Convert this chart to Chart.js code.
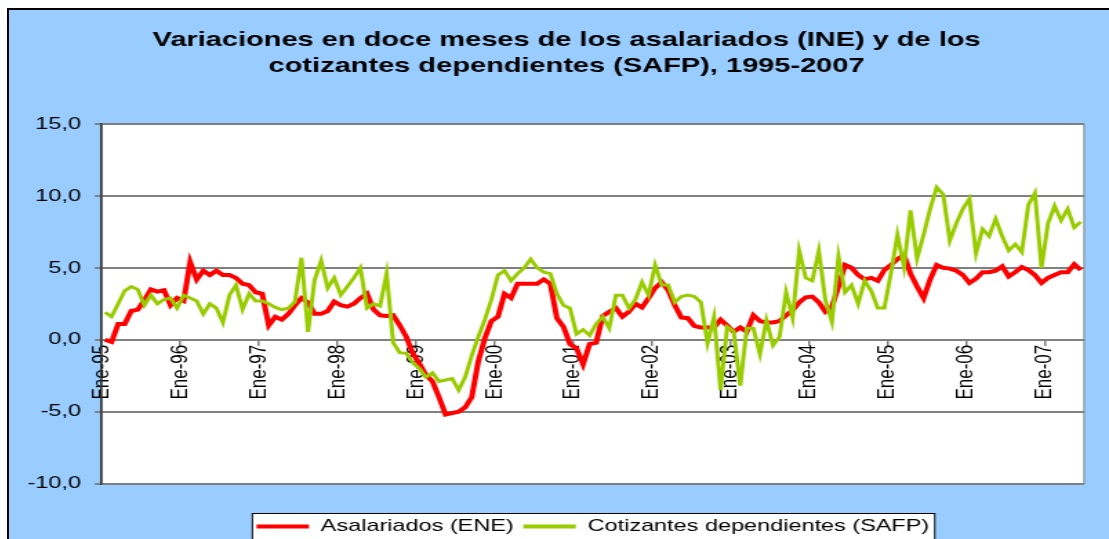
<!DOCTYPE html>
<html lang="es">
<head>
<meta charset="utf-8">
<title>Asalariados y cotizantes</title>
<script src="https://cdn.jsdelivr.net/npm/chart.js@4.4.1/dist/chart.umd.min.js"></script>
<style>
    html, body { margin: 0; background: #fff; overflow: hidden; }
    #marco {
        position: absolute; left: 7px; top: 8px; width: 1100px; height: 560px;
        background: #99ccff; border-left: 2px solid #000; border-top: 2px solid #000;
    }
    #grafico { display: block; }
</style>
</head>
<body>
<div id="marco">
    <!-- el grafico original esta estirado a lo ancho: el lienzo mide 797 y se muestra a 1100 -->
    <canvas id="grafico" width="797" height="535" style="width:1100px;height:535px"></canvas>
</div>
<script>
// Meses y años del eje (ene-1995 a jun-2007)
const meses = ["Ene", "Feb", "Mar", "Abr", "May", "Jun", "Jul", "Ago", "Sep", "Oct", "Nov", "Dic"];
const anios = ["95", "96", "97", "98", "99", "00", "01", "02", "03", "04", "05", "06", "07"];
const marcasEje = [-10, -5, 0, 5, 10, 15];

// Variación en doce meses (%), Asalariados (ENE)
const asalariados = [
    0.0, -0.15, 1.1, 1.1, 2.0, 2.1, 2.75, 3.5, 3.35, 3.45, 2.4, 2.9,
    2.7, 5.4, 4.2, 4.8, 4.5, 4.8, 4.5, 4.5, 4.3, 3.9, 3.8, 3.3,
    3.2, 1.0, 1.6, 1.4, 1.8, 2.4, 2.9, 2.6, 1.8, 1.8, 2.0, 2.65,
    2.4, 2.3, 2.5, 2.9, 3.2, 2.1, 1.7, 1.65, 1.7, 1.0, 0.2, -0.95,
    -1.65, -2.45, -2.9, -4.0, -5.2, -5.1, -5.0, -4.7, -4.0, -1.5, 0.1, 1.3,
    1.6, 3.2, 2.9, 3.9, 3.9, 3.9, 3.9, 4.2, 3.9, 1.5, 0.9, -0.3,
    -0.6, -1.7, -0.3, -0.2, 1.65, 1.95, 2.2, 1.6, 1.95, 2.5, 2.25, 2.9,
    3.6, 4.0, 3.45, 2.4, 1.55, 1.5, 0.95, 0.85, 0.85, 0.85, 1.4, 1.0,
    0.55, 0.85, 0.55, 1.7, 1.3, 1.2, 1.2, 1.3, 1.7, 2.05, 2.6, 2.95,
    3.0, 2.6, 1.95, 2.3, 3.7, 5.2, 5.0, 4.5, 4.2, 4.3, 4.1, 4.85,
    5.2, 5.6, 5.9, 4.6, 3.7, 2.9, 4.2, 5.2, 5.0, 4.95, 4.8, 4.5,
    3.95, 4.25, 4.7, 4.7, 4.8, 5.1, 4.4, 4.7, 5.05, 4.85, 4.5, 3.95,
    4.3, 4.5, 4.7, 4.7, 5.25, 4.85
];

// Variación en doce meses (%), Cotizantes dependientes (SAFP)
const cotizantes = [
    1.9, 1.6, 2.5, 3.4, 3.7, 3.5, 2.4, 3.1, 2.5, 2.8, 2.9, 2.2,
    3.1, 2.9, 2.7, 1.8, 2.5, 2.2, 1.2, 3.1, 3.8, 2.1, 3.2, 2.7,
    2.7, 2.5, 2.25, 2.1, 2.2, 2.65, 5.7, 0.55, 4.15, 5.5, 3.6, 4.3,
    3.1, 3.7, 4.3, 5.0, 2.2, 2.5, 2.35, 4.6, -0.2, -0.9, -0.95, -1.6,
    -2.0, -2.6, -2.3, -2.9, -2.8, -2.7, -3.5, -2.6, -1.1, 0.2, 1.4, 2.8,
    4.5, 4.8, 4.1, 4.6, 5.0, 5.6, 5.0, 4.7, 4.6, 3.2, 2.4, 2.2,
    0.4, 0.7, 0.3, 1.1, 1.6, 0.8, 3.1, 3.1, 2.2, 2.8, 4.0, 3.1,
    5.2, 3.8, 3.8, 2.6, 3.0, 3.1, 3.0, 2.6, -0.25, 1.6, -3.5, 0.9,
    0.6, -3.2, 0.8, 0.8, -1.0, 1.35, -0.4, 0.2, 3.3, 1.5, 6.2, 4.3,
    4.1, 6.2, 2.75, 1.25, 5.8, 3.3, 3.8, 2.5, 4.1, 3.4, 2.2, 2.2,
    4.6, 7.3, 5.07, 9.0, 5.65, 7.3, 9.1, 10.6, 10.1, 6.9, 8.1, 9.1,
    9.8, 6.0, 7.7, 7.2, 8.4, 7.2, 6.2, 6.65, 6.1, 9.4, 10.2, 5.0,
    8.1, 9.3, 8.3, 9.1, 7.8, 8.2
];

// Etiquetas "Ene-95", "Feb-95", ...
const etiquetas = [];
anios.forEach((a) => {
    meses.forEach((m) => {
        if (etiquetas.length < asalariados.length) etiquetas.push(m + "-" + a);
    });
});

const fuente = "Arial, 'Liberation Sans', sans-serif";
Chart.defaults.font.family = fuente;
Chart.defaults.color = "#000";

// Fondo blanco del área de trazado y recuadro de la leyenda
const fondos = {
    id: "fondos",
    beforeDraw(chart) {
        const { ctx, chartArea: a, legend } = chart;
        ctx.save();
        ctx.fillStyle = "#ffffff";
        ctx.fillRect(a.left, a.top, a.right - a.left, a.bottom - a.top);
        ctx.strokeStyle = "#808080";
        ctx.lineWidth = 1;
        ctx.strokeRect(a.left, a.top, a.right - a.left, a.bottom - a.top);

        const cajas = legend.legendHitBoxes;
        if (cajas && cajas.length) {
            const primera = cajas[0];
            const ultima = cajas[cajas.length - 1];
            const izq = primera.left - 3;
            const der = ultima.left + ultima.width + 4;
            const medio = primera.top + primera.height / 2;
            ctx.fillRect(izq, medio - 13, der - izq, 30);
            ctx.strokeStyle = "#000";
            ctx.strokeRect(izq, medio - 13, der - izq, 30);
        }
        ctx.restore();
    }
};

const ctx = document.getElementById("grafico").getContext("2d");
new Chart(ctx, {
    type: "line",
    data: {
        labels: etiquetas,
        datasets: [{
            label: "Asalariados (ENE)",
            data: asalariados,
            borderColor: "#ff0000",
            backgroundColor: "#ff0000",
            borderWidth: 4,
            pointRadius: 0,
            tension: 0,
            order: 1
        }, {
            label: "Cotizantes dependientes (SAFP)",
            data: cotizantes,
            borderColor: "#99cc00",
            backgroundColor: "#99cc00",
            borderWidth: 3,
            pointRadius: 0,
            tension: 0,
            order: 0
        }]
    },
    options: {
        responsive: false,
        maintainAspectRatio: false,
        devicePixelRatio: 1,
        animation: false,
        layout: { padding: { left: 11, right: 0, top: 0, bottom: 0 } },
        plugins: {
            title: {
                display: true,
                text: ["Variaciones en doce meses de los asalariados (INE) y de los",
                       "cotizantes dependientes (SAFP), 1995-2007"],
                font: { size: 21, weight: "bold", lineHeight: 1.24 },
                color: "#000",
                padding: { top: 17, bottom: 45 }
            },
            legend: {
                position: "bottom",
                fullSize: false,
                title: { display: true, text: "", font: { size: 10, lineHeight: 1 }, padding: { top: 0, bottom: 17.5 } },
                labels: {
                    font: { size: 17 },
                    color: "#000",
                    boxWidth: 38,
                    boxHeight: 4,
                    padding: 7,
                    sort: (a, b) => a.datasetIndex - b.datasetIndex,
                    generateLabels(chart) {
                        const items = Chart.defaults.plugins.legend.labels.generateLabels(chart);
                        items.forEach((it) => {
                            it.fillStyle = it.strokeStyle;
                            it.lineWidth = 0;
                        });
                        return items;
                    }
                }
            },
            tooltip: { enabled: false }
        },
        scales: {
            x: {
                position: { y: 0 },
                offset: true,
                grid: {
                    offset: true,
                    drawOnChartArea: false,
                    drawTicks: true,
                    tickLength: 5,
                    lineWidth: 1.5,
                    color: (c) => (c.index % 12 === 0 ? "#808080" : "rgba(0,0,0,0)")
                },
                border: { display: true, color: "#808080", width: 2 },
                ticks: {
                    autoSkip: false,
                    minRotation: 90,
                    maxRotation: 90,
                    padding: 0,
                    labelOffset: -2.4,
                    font: { size: 17 },
                    color: "#000",
                    callback: function (value, index) {
                        return index % 12 === 0 ? this.getLabelForValue(value) : "";
                    }
                }
            },
            y: {
                min: marcasEje[0],
                max: marcasEje[marcasEje.length - 1],
                afterFit: (scale) => { scale.width = 56.2; },
                grid: { color: "#808080", lineWidth: 2, tickLength: 5 },
                border: { display: true, color: "#333333", width: 1.5 },
                ticks: {
                    stepSize: 5,
                    padding: 10,
                    font: { size: 17 },
                    color: "#000",
                    callback: (v) => v.toFixed(1).replace(".", ",")
                }
            },
            // margen derecho del área de trazado (sin marcas)
            margen: {
                type: "linear",
                position: "right",
                afterFit: (scale) => { scale.width = 18; },
                grid: { display: false },
                border: { display: false },
                ticks: { display: false }
            }
        }
    },
    plugins: [fondos]
});
</script>
</body>
</html>
